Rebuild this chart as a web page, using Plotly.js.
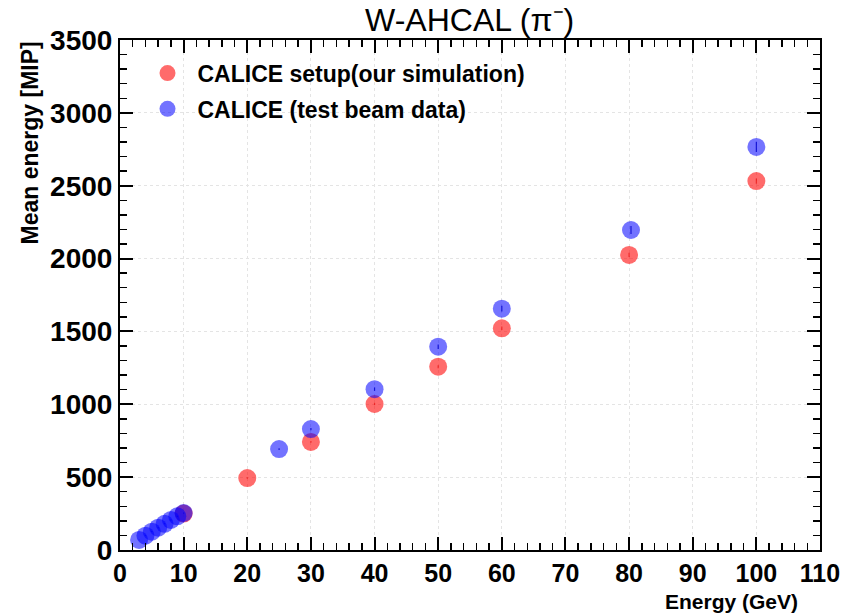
<!DOCTYPE html>
<html>
<head>
<meta charset="utf-8">
<script src="https://cdn.plot.ly/plotly-3.0.1.min.js"></script>
<style>html,body{margin:0;padding:0;background:#fff;}#chart{width:848px;height:615px;}</style>
</head>
<body>
<div id="chart"></div>
<script>
// Simulation (red)
const simEnergy = [10, 20, 30, 40, 50, 60, 80, 100];
const simMean   = [250, 494, 742, 1002, 1258, 1521, 2025, 2532];
const simErr    = [3, 5, 6, 8, 10, 12, 15, 18];
// Test beam data (blue)
const dataEnergy = [3, 4, 5, 6, 7, 8, 9, 10, 25, 30, 40, 50, 60, 80.3, 100];
const dataMean   = [69, 98, 126, 153, 180, 206, 231, 254, 693, 830, 1104, 1395, 1656, 2196, 2766];
const dataErr    = [2, 2, 3, 3, 3, 4, 4, 4, 6, 8, 12, 15, 20, 28, 35];

const seriesNames = ["CALICE setup(our simulation)", "CALICE (test beam data)"];
const titleText = "W-AHCAL (\u03c0\u207b)";
const xTitle = "Energy (GeV)";
const yTitle = "Mean energy [MIP]";

const FONT = "Liberation Sans, Arial, Helvetica, sans-serif";

const traces = [
  {
    x: simEnergy, y: simMean, name: seriesNames[0], type: "scatter", mode: "markers", legend: "legend",
    marker: {color: "rgba(255,0,0,0.58)", size: 18, line: {width: 0}},
    error_y: {type: "data", array: simErr, visible: true, thickness: 1.2, width: 0, color: "rgba(190,0,0,0.6)"}
  },
  {
    x: dataEnergy, y: dataMean, name: seriesNames[1], type: "scatter", mode: "markers", legend: "legend2",
    marker: {color: "rgba(0,0,255,0.55)", size: 18, line: {width: 0}},
    error_y: {type: "data", array: dataErr, visible: true, thickness: 1.2, width: 0, color: "rgba(0,0,140,0.8)"}
  }
];

const axisCommon = {
  showline: true, linecolor: "#000", linewidth: 2, mirror: "allticks",
  ticks: "inside", ticklen: 13, tickwidth: 2, tickcolor: "#000",
  showgrid: true, gridcolor: "#e4e4e4", griddash: "dot", gridwidth: 1,
  zeroline: false
};

const legendCommon = {xanchor: "left", yanchor: "middle", bgcolor: "rgba(0,0,0,0)",
  font: {family: FONT, size: 23, weight: "bold"}, itemwidth: 50};

const layout = {
  width: 848, height: 615,
  margin: {l: 120, r: 28, t: 40, b: 65},
  paper_bgcolor: "#fff", plot_bgcolor: "#fff",
  font: {family: FONT, color: "#000"},
  title: {text: titleText, font: {family: FONT, size: 32, color: "#000"}, x: 0.5538, xanchor: "center", y: 0.968, yanchor: "middle"},
  showlegend: true,
  legend: Object.assign({}, legendCommon, {x: 0.025, y: 0.935}),
  legend2: Object.assign({}, legendCommon, {x: 0.025, y: 0.865}),
  xaxis: Object.assign({}, axisCommon, {
    range: [0, 110], dtick: 10, tick0: 0,
    tickfont: {family: FONT, size: 25, weight: "bold"},
    minor: {dtick: 2, ticks: "inside", ticklen: 7, tickwidth: 1.5, tickcolor: "#000", showgrid: false}
  }),
  yaxis: Object.assign({}, axisCommon, {
    range: [0, 3500], dtick: 500, tick0: 0,
    tickfont: {family: FONT, size: 28, weight: "bold"},
    minor: {dtick: 100, ticks: "inside", ticklen: 7, tickwidth: 1.5, tickcolor: "#000", showgrid: false}
  }),
  annotations: [
    {text: xTitle, xref: "paper", yref: "paper", x: 0.971, y: -0.1, xanchor: "right", yanchor: "middle",
     showarrow: false, font: {family: FONT, size: 21, weight: "bold"}},
    {text: yTitle, xref: "paper", yref: "paper", x: -0.13, y: 1, xanchor: "center", yanchor: "top",
     textangle: -90, showarrow: false, font: {family: FONT, size: 23, weight: "bold"}}
  ]
};

Plotly.newPlot("chart", traces, layout, {displayModeBar: false, staticPlot: true});
</script>
</body>
</html>
